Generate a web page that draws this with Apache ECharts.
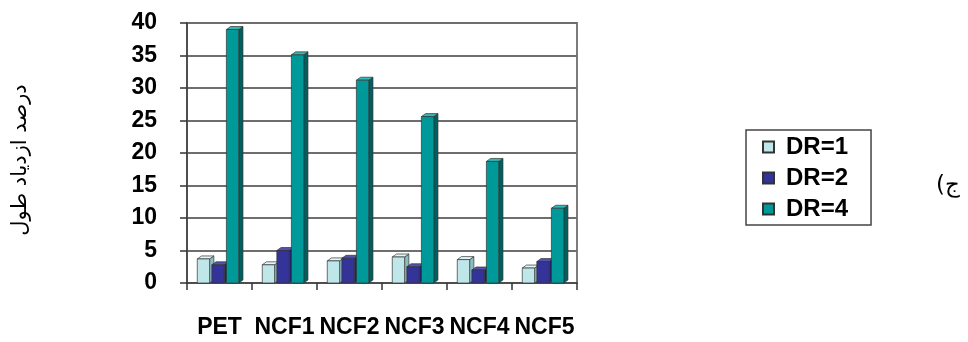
<!DOCTYPE html>
<html>
<head>
<meta charset="utf-8">
<script src="https://cdn.jsdelivr.net/npm/echarts@6/dist/echarts.min.js"></script>
<style>
  html, body { margin: 0; padding: 0; background: #fff; }
  #chart { width: 968px; height: 342px; }
</style>
</head>
<body>
<div id="chart"></div>
<script>
// Samples along the x axis
const categories = ['PET', 'NCF1', 'NCF2', 'NCF3', 'NCF4', 'NCF5'];
// Elongation increase (%) for each draw ratio
const dr1 = [3.7, 2.8, 3.4, 4.0, 3.6, 2.3];
const dr2 = [2.8, 5.0, 3.8, 2.5, 2.0, 3.3];
const dr4 = [39.0, 35.1, 31.2, 25.6, 18.7, 11.5];
const seriesNames = ['DR=1', 'DR=2', 'DR=4'];
const yTicks = [0, 5, 10, 15, 20, 25, 30, 35, 40];

const palette = [
  { front: '#bfe7e9', side: '#8cbcbe', top: '#e2f5f6' },
  { front: '#333399', side: '#202068', top: '#5252b5' },
  { front: '#009999', side: '#005f5f', top: '#33b8b8' }
];

// Draws one box-shaped bar with a visible top and right side
function makeRenderer(k) {
  return function (params, api) {
    const cat = api.value(0);
    const val = api.value(1);
    const top = api.coord([cat, val]);
    const base = api.coord([cat, 0]);
    const band = api.size([1, 0])[0];
    const fw = band * 0.19;
    const dx = band * 0.065;
    const dy = 3;
    const x0 = top[0] + (k - 1) * band * 0.224 - band * 0.023 - fw / 2;
    const c = palette[k];
    const stroke = { stroke: '#333', lineWidth: 0.7 };
    return {
      type: 'group',
      children: [
        {
          type: 'polygon',
          shape: { points: [[x0 + fw, top[1]], [x0 + fw + dx, top[1] - dy], [x0 + fw + dx, base[1] - dy], [x0 + fw, base[1]]] },
          style: Object.assign({ fill: c.side }, stroke)
        },
        {
          type: 'polygon',
          shape: { points: [[x0, top[1]], [x0 + dx, top[1] - dy], [x0 + fw + dx, top[1] - dy], [x0 + fw, top[1]]] },
          style: Object.assign({ fill: c.top }, stroke)
        },
        {
          type: 'rect',
          shape: { x: x0, y: top[1], width: fw, height: base[1] - top[1] },
          style: Object.assign({ fill: c.front }, stroke)
        }
      ]
    };
  };
}

function customSeries(name, values, k) {
  return {
    name: name,
    type: 'custom',
    renderItem: makeRenderer(k),
    itemStyle: { color: palette[k].front, borderColor: '#333', borderWidth: 1 },
    encode: { x: 0, y: 1 },
    data: values.map((v, i) => [i, v]),
    z: 3
  };
}

const chart = echarts.init(document.getElementById('chart'), null, { renderer: 'canvas' });
chart.setOption({
  animation: false,
  backgroundColor: '#ffffff',
  grid: {
    left: 187, right: 391, top: 23, bottom: 59,
    show: true, borderColor: '#6e6e6e', borderWidth: 1.8
  },
  xAxis: {
    type: 'category',
    data: categories,
    boundaryGap: true,
    axisLine: { lineStyle: { color: '#444', width: 1.6 } },
    axisTick: { show: true, length: 7, inside: false, alignWithLabel: false, lineStyle: { color: '#333', width: 1.5 } },
    axisLabel: {
      interval: 0, margin: 33, color: '#000',
      fontFamily: 'Liberation Sans, Arial, sans-serif', fontWeight: 'bold', fontSize: 23
    },
    splitLine: { show: false }
  },
  yAxis: {
    type: 'value',
    min: 0, max: 40, interval: 5,
    axisLine: { show: true, lineStyle: { color: '#444', width: 1.6 } },
    axisTick: { show: true, length: 7, lineStyle: { color: '#333', width: 1.5 } },
    axisLabel: {
      margin: 30, color: '#000',
      fontFamily: 'Liberation Sans, Arial, sans-serif', fontWeight: 'bold', fontSize: 23,
      formatter: v => (yTicks.indexOf(v) >= 0 ? String(v) : '')
    },
    splitLine: { show: true, lineStyle: { color: '#6e6e6e', width: 1.8 } }
  },
  legend: {
    orient: 'vertical',
    left: 746, top: 130,
    padding: [5, 23, 4, 16],
    itemGap: 7,
    itemWidth: 11, itemHeight: 11,
    icon: 'rect',
    borderColor: '#444', borderWidth: 1.5,
    backgroundColor: '#fff',
    data: seriesNames,
    textStyle: {
      color: '#000', fontFamily: 'Liberation Sans, Arial, sans-serif',
      fontWeight: 'bold', fontSize: 24, padding: [0, 0, 0, 7]
    }
  },
  graphic: [
    {
      type: 'text',
      x: 21, y: 160,
      rotation: Math.PI / 2,
      style: {
        text: 'درصد ازدیاد طول',
        font: '21px "DejaVu Sans", sans-serif',
        fill: '#000',
        align: 'center',
        verticalAlign: 'middle'
      }
    },
    {
      type: 'text',
      x: 948, y: 186,
      style: {
        text: '(ج',
        font: '23px "DejaVu Sans", sans-serif',
        fill: '#000',
        align: 'center',
        verticalAlign: 'middle'
      }
    }
  ],
  series: [
    customSeries(seriesNames[0], dr1, 0),
    customSeries(seriesNames[1], dr2, 1),
    customSeries(seriesNames[2], dr4, 2)
  ]
});
</script>
</body>
</html>
